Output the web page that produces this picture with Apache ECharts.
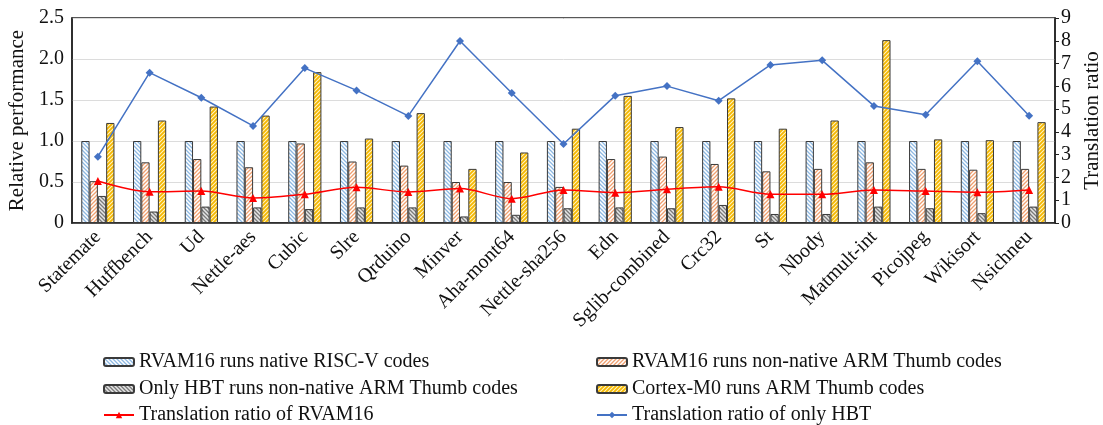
<!DOCTYPE html>
<html><head><meta charset="utf-8">
<script src="https://cdn.jsdelivr.net/npm/echarts@6/dist/echarts.min.js"></script>
<style>html,body{margin:0;padding:0;background:#fff}#c{width:1103px;height:425px}</style>
</head><body><div id="c"></div>
<script>
const categories = ['Statemate','Huffbench','Ud','Nettle-aes','Cubic','Slre','Qrduino','Minver','Aha-mont64','Nettle-sha256','Edn','Sglib-combined','Crc32','St','Nbody','Matmult-int','Picojpeg','Wikisort','Nsichneu'];
const nativeRV = [1,1,1,1,1,1,1,1,1,1,1,1,1,1,1,1,1,1,1];
const rvamThumb = [0.51,0.74,0.78,0.68,0.97,0.75,0.70,0.50,0.50,0.44,0.78,0.81,0.72,0.63,0.66,0.74,0.66,0.65,0.66];
const hbtThumb = [0.33,0.14,0.20,0.19,0.17,0.19,0.19,0.08,0.10,0.18,0.19,0.18,0.22,0.11,0.11,0.20,0.18,0.12,0.20];
const cortexM0 = [1.22,1.25,1.42,1.31,1.84,1.03,1.34,0.66,0.86,1.15,1.55,1.17,1.52,1.15,1.25,2.23,1.02,1.01,1.23];
const ratioRVAM = [1.84,1.37,1.40,1.10,1.26,1.57,1.36,1.51,1.07,1.45,1.33,1.48,1.59,1.26,1.26,1.45,1.40,1.35,1.45];
const ratioHBT = [2.91,6.60,5.50,4.26,6.80,5.82,4.70,7.99,5.71,3.47,5.59,6.01,5.37,6.94,7.14,5.14,4.75,7.10,4.71];
const seriesNames = ['RVAM16 runs native RISC-V codes','RVAM16 runs non-native ARM Thumb codes','Only HBT runs non-native ARM Thumb codes','Cortex-M0 runs ARM Thumb codes','Translation ratio of RVAM16','Translation ratio of only HBT'];
</script>
<script>
const FONT = '"Liberation Serif","Times New Roman",serif';
function hatch(bg, fg, dir, lw, s) {
  const c = document.createElement('canvas'); c.width = s; c.height = s;
  const g = c.getContext('2d');
  g.fillStyle = bg; g.fillRect(0,0,s,s);
  g.strokeStyle = fg; g.lineWidth = lw; g.beginPath();
  if (dir === '/') {
    g.moveTo(0,s); g.lineTo(s,0);
    g.moveTo(-1,1); g.lineTo(1,-1);
    g.moveTo(s-1,s+1); g.lineTo(s+1,s-1);
  } else {
    g.moveTo(0,0); g.lineTo(s,s);
    g.moveTo(s-1,-1); g.lineTo(s+1,1);
    g.moveTo(-1,s-1); g.lineTo(1,s+1);
  }
  g.stroke();
  return {image: c, repeat: 'repeat'};
}
const pBlue = hatch('#ffffff', '#8DB8E2', '\\', 1.3, 4);
const pOrange = hatch('#ffffff', '#F0A070', '/', 1.3, 4);
const pGray = hatch('#E6E6E6', '#7A7A7A', '\\', 1.3, 4);
const pYellow = hatch('#FFF4C8', '#F5B800', '/', 1.8, 4);
const chart = echarts.init(document.getElementById('c'));
const border = {borderColor: '#3a3a3a', borderWidth: 1};
function barS(name, data, pat) {
  return {name, type: 'bar', data, barWidth: 8.3, barGap: '0%', itemStyle: Object.assign({color: pat}, border), z: 2};
}
const names = seriesNames;
const legText = {fontFamily: FONT, fontSize: 20, color: '#111'};
const legPos = [[103,352],[596,352],[103,379],[596,379],[103,405],[596,405]];
const legends = names.map((n, i) => ({data: [n], left: legPos[i][0], top: legPos[i][1], itemWidth: 30, itemHeight: 8, itemGap: 0, textStyle: legText, padding: 0}));
chart.setOption({
  animation: false,
  grid: {left: 72, right: 48, top: 18, bottom: 202, containLabel: false, outerBoundsMode: 'none', show: true, borderColor: '#222', borderWidth: 1.5},
  legend: legends,
  xAxis: {type: 'category', data: categories,
    axisLine: {lineStyle: {color: '#222', width: 1.5}}, axisTick: {show: false},
    axisLabel: {interval: 0, rotate: 45, margin: 11, fontFamily: FONT, fontSize: 20, color: '#111'}},
  yAxis: [
    {type: 'value', min: 0, max: 2.5, interval: 0.5, name: 'Relative performance', nameLocation: 'middle', nameGap: 43,
     nameTextStyle: {fontFamily: FONT, fontSize: 21, color: '#111'},
     axisLine: {show: true, lineStyle: {color: '#222', width: 1.5}}, axisTick: {show: false},
     splitLine: {lineStyle: {color: '#dcdcdc', width: 1}},
     axisLabel: {fontFamily: FONT, fontSize: 20, color: '#111', margin: 8, formatter: v => v === 0 ? '0' : v.toFixed(1)}},
    {type: 'value', min: 0, max: 9, interval: 1, name: 'Translation ratio', nameLocation: 'middle', nameGap: 27,
     nameTextStyle: {fontFamily: FONT, fontSize: 21, color: '#111'},
     axisLine: {show: true, lineStyle: {color: '#222', width: 1.5}}, axisTick: {show: true, length: 4, inside: false, lineStyle: {color: '#222'}},
     splitLine: {show: false},
     axisLabel: {fontFamily: FONT, fontSize: 20, color: '#111', margin: 6}}
  ],
  series: [
    barS(names[0], nativeRV, pBlue),
    barS(names[1], rvamThumb, pOrange),
    barS(names[2], hbtThumb, pGray),
    barS(names[3], cortexM0, pYellow),
    {name: names[4], type: 'line', yAxisIndex: 1, data: ratioRVAM, smooth: 0.3, symbol: 'triangle', symbolSize: 8,
     lineStyle: {color: '#FF0000', width: 1.5}, itemStyle: {color: '#FF0000'}, z: 5},
    {name: names[5], type: 'line', yAxisIndex: 1, data: ratioHBT, symbol: 'diamond', symbolSize: 8,
     lineStyle: {color: '#4472C4', width: 1.5}, itemStyle: {color: '#4472C4'}, z: 5}
  ]
});
</script>
</body></html>
